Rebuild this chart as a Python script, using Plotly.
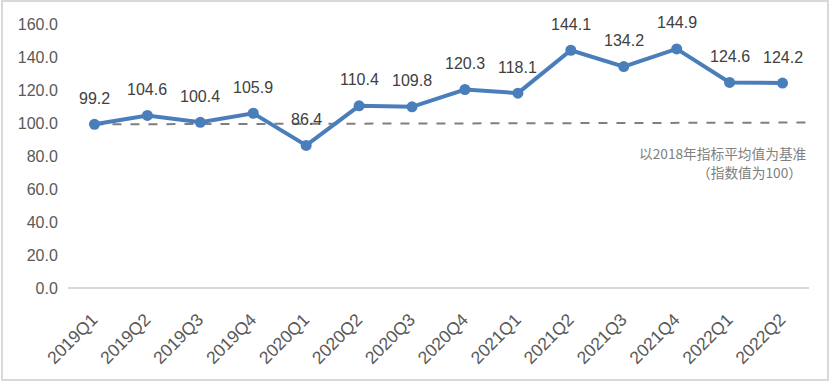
import plotly.graph_objects as go

categories = ["2019Q1", "2019Q2", "2019Q3", "2019Q4", "2020Q1", "2020Q2", "2020Q3",
              "2020Q4", "2021Q1", "2021Q2", "2021Q3", "2021Q4", "2022Q1", "2022Q2"]
values = [99.2, 104.6, 100.4, 105.9, 86.4, 110.4, 109.8, 120.3, 118.1, 144.1, 134.2, 144.9, 124.6, 124.2]
baseline = 100
y_ticks = [0, 20, 40, 60, 80, 100, 120, 140, 160]
y_tick_labels = [f"{v:.1f}" for v in y_ticks]
note_lines = ["以2018年指标平均值为基准", "（指数值为100）"]

W, H = 834, 384
ml, mr, mt, mb = 68, 25, 24, 96
pw, ph = W - ml - mr, H - mt - mb

fig = go.Figure()
fig.add_trace(go.Scatter(
    x=categories, y=values, mode="lines+markers",
    line=dict(color="#4A7EBB", width=4),
    marker=dict(color="#4A7EBB", size=11),
    hoverinfo="skip", showlegend=False,
))

annotations = []
for c, v in zip(categories, values):
    annotations.append(dict(x=c, y=v, text=f"{v:.1f}", showarrow=False, yshift=26,
                            font=dict(size=16, color="#404040", family="Liberation Sans")))
annotations.append(dict(xref="paper", yref="paper", x=(809 - ml) / pw, y=(288 - 153) / ph,
                        xanchor="right", yanchor="middle", text=note_lines[0], showarrow=False,
                        font=dict(size=13.7, color="#808080", family="Noto Sans CJK SC")))
annotations.append(dict(xref="paper", yref="paper", x=(804 - ml) / pw, y=(288 - 172) / ph,
                        xanchor="right", yanchor="middle", text=note_lines[1], showarrow=False,
                        font=dict(size=13.7, color="#808080", family="Noto Sans CJK SC")))

shapes = [
    dict(type="line", xref="x", yref="y", x0=0, x1=len(categories) - 1 + 0.68,
         y0=baseline - 0.8, y1=baseline + 0.3,
         line=dict(color="#7F7F7F", width=2, dash="dash"), layer="below"),
    dict(type="rect", xref="paper", yref="paper",
         x0=(2 - ml) / pw, x1=(828 - ml) / pw, y0=(288 - 380) / ph, y1=(288 - 1) / ph,
         line=dict(color="#D9D9D9", width=2), fillcolor="rgba(0,0,0,0)"),
]

fig.update_layout(
    width=W, height=H,
    margin=dict(l=ml, r=mr, t=mt, b=mb),
    paper_bgcolor="white", plot_bgcolor="white",
    font=dict(family="Liberation Sans", size=15, color="#595959"),
    annotations=annotations, shapes=shapes,
    xaxis=dict(type="category", range=[-0.5, len(categories) - 0.5], tickangle=-45,
               automargin=False,
               showgrid=False, showline=False, zeroline=False,
               ticks="", ticklabelstandoff=17, ticklabelshift=-2,
               tickfont=dict(size=17.5, color="#595959")),
    yaxis=dict(range=[0, 160], tickvals=y_ticks, ticktext=y_tick_labels,
               automargin=False,
               showgrid=False, zeroline=True, zerolinecolor="#D9D9D9", zerolinewidth=2,
               showline=False, ticks="outside", ticklen=6, tickcolor="rgba(0,0,0,0)",
               tickfont=dict(size=16, color="#595959")),
)

fig.write_html("out.html", config={"displayModeBar": False},
               post_script="document.body.style.margin='0px';document.body.style.overflow='hidden';")
